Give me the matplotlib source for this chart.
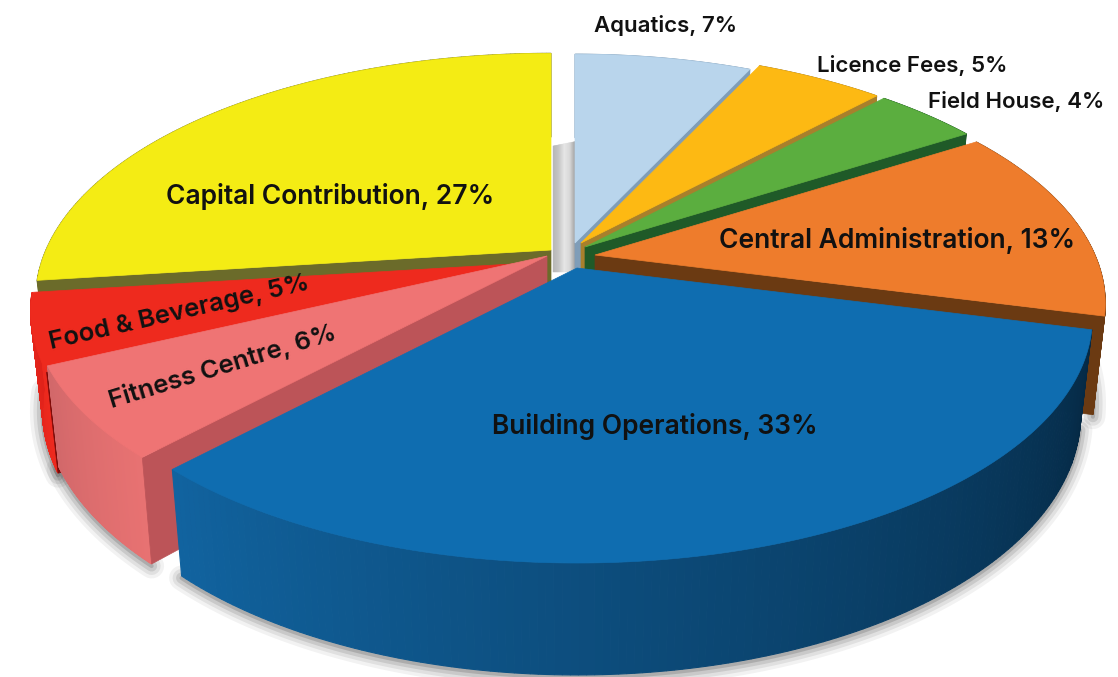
"""Exploded 3D-look pie of the budget split, drawn by hand in pixel coordinates."""
import matplotlib
matplotlib.use("Agg")
import matplotlib.pyplot as plt
import numpy as np
from matplotlib.colors import LinearSegmentedColormap
from matplotlib.patches import Polygon

names = ["Aquatics", "Licence Fees", "Field House", "Central Administration",
         "Building Operations", "Fitness Centre", "Food & Beverage", "Capital Contribution"]
shares = [7, 5, 4, 13, 33, 6, 5, 27]

top_colors = ["#b9d5ec", "#fdb913", "#5bae3f", "#ee7c2c", "#0f6db0", "#ef7474", "#ee2a1e", "#f4ec14"]
cut_colors = ["#7f9db8", "#a8802c", "#1f5a28", "#6b3a12", "#0a3a60", "#bc5458", "#7a0a08", "#6b6b2a"]
wall_ramps = [("#7f9db8", "#7f9db8"), ("#a8802c", "#a8802c"), ("#1f5a28", "#1f5a28"),
              ("#6b3a12", "#6b3a12"), ("#052843", "#11639f"), ("#e87272", "#d2686a"),
              ("#ee2a1e", "#e0221a"), ("#6b6b2a", "#6b6b2a")]

# layout: where each wedge's tip sits after exploding, and its radius scale
apex = [(575, 243), (581, 243), (585, 247), (595, 255), (577, 268), (547, 256), (546, 262), (551, 250)]
rad_scale = [0.96, 0.98, 0.99, 0.99, 1.0, 1.0, 1.0, 1.0]
draw_order = [7, 0, 1, 2, 3, 6, 5, 4]
halo_slices = [3, 4, 5, 6]

R, RY, K, H, BOTTOM = 505, 236, 0.2, 95, 0.977

label_pos = [(665, 25, 0), (912, 65, 0), (1016, 101, 0), (897, 241, 0),
             (655, 427, 0), (222, 366, 17), (179, 313, 13), (330, 197, 0)]
label_size = [16, 16, 16, 19, 19, 18.4, 18.4, 19]


def project(i, theta, bottom=False):
    """Clockwise angle from 12 o'clock -> pixel position on wedge i's rim."""
    ax0, ay0 = apex[i]
    rs = rad_scale[i]
    x, y = np.sin(theta), np.cos(theta)
    s = 1 / (1 + K * y)
    px, py = R * rs * x * s, -RY * rs * y * s
    if bottom:
        return ax0 + BOTTOM * px, ay0 + BOTTOM * py + H * s
    return ax0 + px, ay0 + py


edges = np.radians(np.concatenate([[0], np.cumsum(shares)]) * 3.6)

fig = plt.figure(figsize=(11.18, 6.77), dpi=100)
ax = fig.add_axes([0, 0, 1, 1])
ax.set_xlim(0, 1118)
ax.set_ylim(677, 0)
ax.axis("off")

# grey hub that shows through the gap at the back
hub_cmap = LinearSegmentedColormap.from_list(
    "hub", ["#b8b8b8", "#c6c6c6", "#e6e6e6", "#d8d8d8", "#a0a0a0"])
hub_edges = np.linspace(553, 576, 24)
for k, (x0, x1) in enumerate(zip(hub_edges[:-1], hub_edges[1:])):
    c = hub_cmap(k / 22)
    ax.fill([x0, x1, x1, x0], [146 - (x0 - 553) * 0.2, 146 - (x1 - 553) * 0.2, 272, 272],
            fc=c, ec=c, lw=0.3, zorder=1)

# soft shadow under the front wedges
for i in halo_slices:
    th = np.linspace(edges[i], edges[i + 1], 120)
    bx, by = project(i, th, bottom=True)
    for lw, a in [(18, 0.05), (13, 0.07), (8, 0.10), (3, 0.14)]:
        ax.plot(bx, by + 2, color="#000000", lw=lw, alpha=a, solid_capstyle="round", zorder=1)

for z, i in enumerate(draw_order):
    t0, t1 = edges[i], edges[i + 1]
    base = 2 + z * 3
    th = np.linspace(t0, t1, 160)
    ramp = LinearSegmentedColormap.from_list("w", wall_ramps[i])

    # rim wall, split up so it can carry a gradient
    for j in range(len(th) - 1):
        a, b = th[j], th[j + 1]
        c = ramp(j / (len(th) - 2))
        xa, ya = project(i, a)
        xb, yb = project(i, b)
        xc, yc = project(i, b, bottom=True)
        xd, yd = project(i, a, bottom=True)
        ax.add_patch(Polygon([(xa, ya), (xb, yb), (xc, yc), (xd, yd)], closed=True,
                             fc=c, ec=c, lw=0.8, zorder=base))

    # radial cut faces that look toward the viewer
    ax0, ay0 = apex[i]
    cuts = []
    if t1 < np.pi:
        cuts.append(t1)
    if t0 > np.pi:
        cuts.append(t0)
    for t in cuts:
        xa, ya = project(i, t)
        xb, yb = project(i, t, bottom=True)
        ax.add_patch(Polygon([(ax0, ay0), (xa, ya), (xb, yb), (ax0, ay0 + H)], closed=True,
                             fc=cut_colors[i], ec=cut_colors[i], lw=0.5, zorder=base + 1))

    # top face
    x, y = project(i, th)
    ax.add_patch(Polygon(np.column_stack([np.r_[ax0, x], np.r_[ay0, y]]), closed=True,
                         fc=top_colors[i], ec=top_colors[i], lw=0.5, zorder=base + 2))

for name, share, (lx, ly, rot), fs in zip(names, shares, label_pos, label_size):
    ax.text(lx, ly, f"{name}, {share}%", ha="center", va="center", rotation=rot,
            rotation_mode="anchor", family="Inter", fontsize=fs, fontweight="semibold",
            color="#111111", zorder=60)

fig.savefig("out.png", dpi=100, facecolor="white")
plt.close(fig)
